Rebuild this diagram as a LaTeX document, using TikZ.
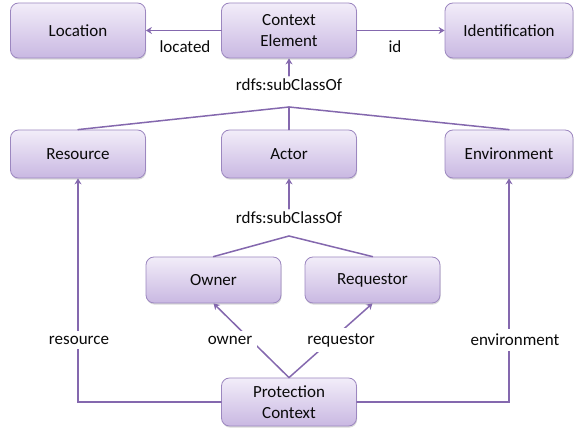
\documentclass[tikz,border=0pt]{standalone}
\usepackage{fontspec}
\setmainfont{Carlito}
\usetikzlibrary{arrows.meta,shadows}

\definecolor{boxtop}{HTML}{F2EDF9}
\definecolor{boxbot}{HTML}{C9B8E2}
\definecolor{boxline}{HTML}{9C87C0}
\definecolor{linkcol}{HTML}{8468AE}
\definecolor{txt}{HTML}{0A0A0A}

\tikzset{
  box/.style={draw=boxline, line width=0.8pt, rounded corners=8pt,
    top color=boxtop, bottom color=boxbot,
    minimum width=135pt, minimum height=48pt, align=center, text=txt,
    font=\fontsize{17}{21}\selectfont,
    drop shadow={shadow xshift=0.6pt, shadow yshift=-1.6pt, opacity=0.3}},
  lbl/.style={text=txt, font=\fontsize{17}{21}\selectfont, inner sep=3pt},
  cut/.style={lbl, fill=white, inner sep=5pt},
  link/.style={draw=linkcol, line width=1.5pt},
  arr/.style={link, -{Stealth[length=6pt, width=7pt, inset=2pt]}}
}

\begin{document}
\begin{tikzpicture}[x=1pt, y=-1pt, line cap=round]
  % Frame
  \useasboundingbox (0,0) rectangle (574,430);

  % Top row
  \node[box, minimum height=55pt] (loc) at (78,30.5) {Location};
  \node[box, minimum height=55pt] (ce) at (289,30.5) {Context\\Element};
  \node[box, minimum height=55pt, minimum width=128pt] (ident) at (509,30.5) {Identification};

  % Middle row
  \node[box] (res) at (78,154) {Resource};
  \node[box] (actor) at (289,154) {Actor};
  \node[box, minimum width=128pt] (env) at (509,154) {Environment};

  % Actor subclasses
  \node[box, minimum height=46pt] (owner) at (213.5,280) {Owner};
  \node[box, minimum height=46pt] (req) at (372.5,280) {Requestor};

  % Protection context
  \node[box] (pc) at (289,402) {Protection\\Context};

  % Properties of the context element
  \draw[arr] (ce) -- (loc);
  \draw[arr] (ce) -- (ident);
  \node[lbl] (located) at (185,47) {located};
  \node[lbl] (id) at (395,47) {id};

  % First subclass tree
  \node[lbl] (sub1) at (289,85) {rdfs:subClassOf};
  \coordinate (j1) at (289,107);
  \draw[arr] (sub1) -- (ce);
  \draw[link] (j1) -- (res.north);
  \draw[link] (j1) -- (actor.north);
  \draw[link] (j1) -- (env.north);

  % Second subclass tree
  \node[lbl] (sub2) at (289,218) {rdfs:subClassOf};
  \coordinate (j2) at (289,236);
  \draw[arr] (sub2) -- (actor);
  \draw[link] (j2) -- (owner.north);
  \draw[link] (j2) -- (req.north);

  % Properties of the protection context
  \draw[arr] (pc.north) -- (owner.south);
  \draw[arr] (pc.north) -- (req.south);
  \draw[arr] (pc.west) -| (res.south);
  \draw[arr] (pc.east) -| (env.south);
  \node[cut] (lres) at (79,340) {resource};
  \node[cut] (lown) at (230,340) {owner};
  \node[cut] (lreq) at (341,340) {requestor};
  \node[cut] (lenv) at (515,340) {environment};
\end{tikzpicture}
\end{document}
